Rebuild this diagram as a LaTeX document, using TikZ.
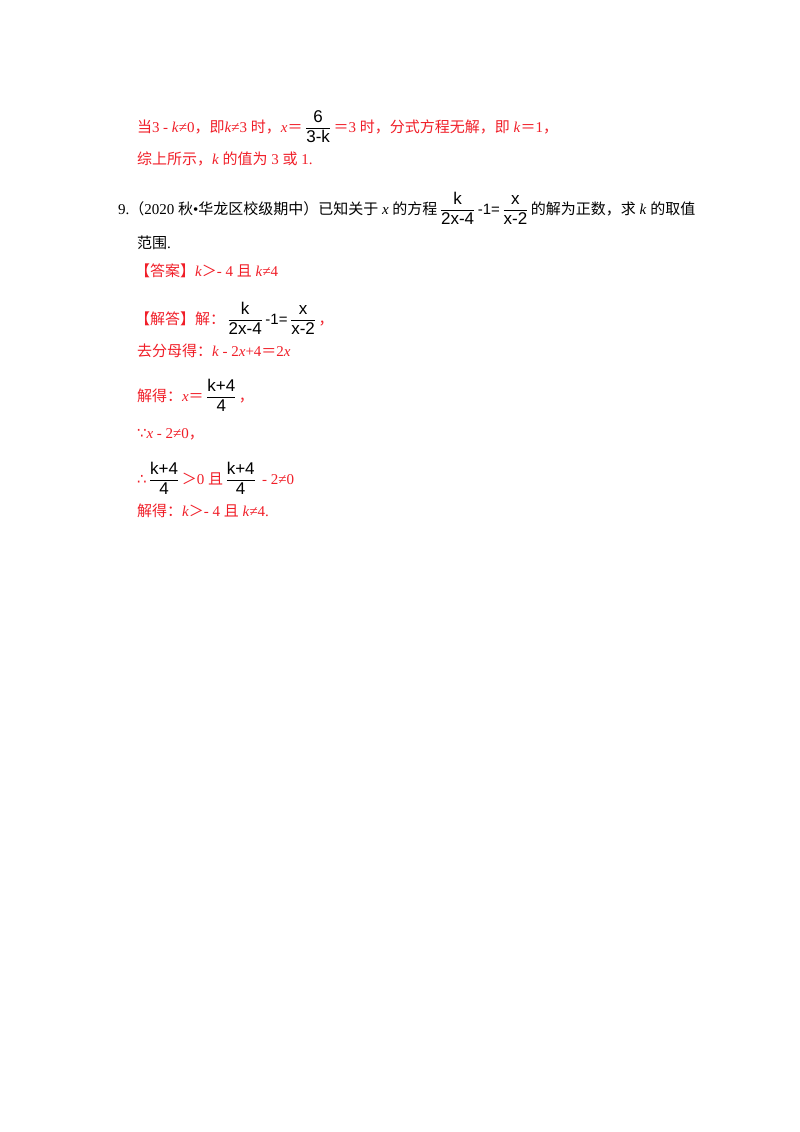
\documentclass[tikz,border=0pt]{standalone}
\usepackage{amsmath}
\usepackage{fontspec}
\setmainfont{Liberation Serif}
\setsansfont{Liberation Sans}
\newfontfamily\cjk{Noto Sans CJK SC}
\newfontfamily\djsym{DejaVu Sans}
\definecolor{ansred}{RGB}{240,30,40}
\newcommand\fr[2]{{\color{black}\,$\dfrac{\textsf{\fontsize{17}{20}\selectfont #1}}{\textsf{\fontsize{17}{20}\selectfont #2}}$\,}}
\newcommand\eqq{{\cjk ＝}}
\newcommand\gtt{{\cjk ＞}}
\begin{document}
\begin{tikzpicture}[x=1pt,y=-1pt,
  every node/.style={inner sep=0pt,outer sep=0pt,anchor=base west,font=\fontsize{15}{18}\selectfont},
  red/.style={text=ansred},
  blk/.style={text=black}]
\useasboundingbox (0,0) rectangle (800,1132);
\node[red] (l1) at (137,132) {{\cjk 当}3 - \textit{k}≠0{\cjk ，即}\textit{k}≠3 {\cjk 时，}\textit{x}\eqq\fr{6}{3-k}\eqq 3 {\cjk 时，分式方程无解，即} \textit{k}\eqq 1{\cjk ，}};
\node[red] (l2) at (137,164) {{\cjk 综上所示，}\textit{k} {\cjk 的值为} 3 {\cjk 或} 1.};
\node[blk] (l3) at (118,214) {9.{\cjk （}2020 {\cjk 秋}•{\cjk 华龙区校级期中）已知关于} \textit{x} {\cjk 的方程}\fr{k}{2x-4}\textsf{-1=}\fr{x}{x-2}{\cjk 的解为正数，求} \textit{k} {\cjk 的取值}};
\node[blk] (l4) at (137,248) {{\cjk 范围}.};
\node[red] (l5) at (135,276) {{\cjk 【答案】}\textit{k}\gtt - 4 {\cjk 且} \textit{k}≠4};
\node[red] (l6) at (135,324) {{\cjk 【解答】解：}\fr{k}{2x-4}\textsf{\color{black}-1=}\fr{x}{x-2}{\cjk ，}};
\node[red] (l7) at (137,356) {{\cjk 去分母得：}\textit{k} - 2\textit{x}+4\eqq 2\textit{x}};
\node[red] (l8) at (137,401) {{\cjk 解得：}\textit{x}\eqq\fr{k+4}{4}{\cjk ，}};
\node[red] (l9) at (137,438) {{\djsym ∵}\textit{x} - 2≠0{\cjk ，}};
\node[red] (l10) at (137,484) {{\djsym ∴}\fr{k+4}{4}\gtt 0 {\cjk 且}\fr{k+4}{4} - 2≠0};
\node[red] (l11) at (137,516) {{\cjk 解得：}\textit{k}\gtt - 4 {\cjk 且} \textit{k}≠4.};
\end{tikzpicture}
\end{document}
